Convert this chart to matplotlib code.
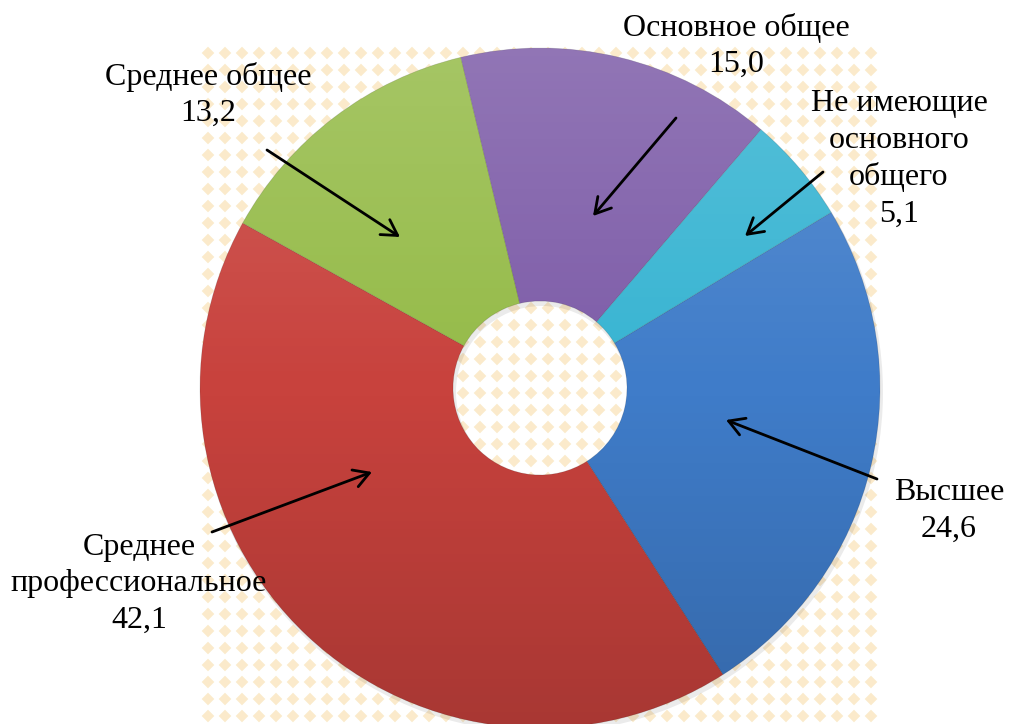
import numpy as np
import matplotlib.pyplot as plt
from matplotlib.patches import RegularPolygon
from matplotlib.collections import PatchCollection

# ==============================================================================
# Data
#
categories = [
    'Высшее',
    'Среднее\nпрофессиональное',
    'Среднее общее',
    'Основное общее',
    'Не имеющие\nосновного\nобщего',
]
shares = [24.6, 42.1, 13.2, 15.0, 5.1]

# ==============================================================================
# Layout (pixel units, y measured from the top of the picture)
#
FIG_W, FIG_H = 1010, 724
DPI = 100
CENTER = (540, 388)
OUTER_RADIUS = 340
INNER_RADIUS = 87
START_ANGLE = 31.1

SLICE_COLORS = ['#3f7cc9', '#c8423d', '#95bb48', '#7d5ca8', '#37b4d2']
PATTERN_COLOR = '#fbeacb'
PATTERN_STEP = 17
PATTERN_X = (208, 872)
PATTERN_Y = (53, 740)

FONT = 'Liberation Serif'
FONT_SIZE = 23
LINE_SPACING = 1.33

# label centre (x, y) and arrow (tail, head)
label_positions = [(949, 511), (139, 584), (208, 95), (736, 46), (899, 159)]
arrow_tails = [(877, 479), (212, 532), (267, 150), (676, 118), (823, 172)]
arrow_heads = [(726, 420), (372, 472), (400, 237), (593, 216), (745, 236)]


def to_data(point):
    return point[0], FIG_H - point[1]


# ==============================================================================
# Figure
#
fig = plt.figure(figsize=(FIG_W / DPI, FIG_H / DPI), dpi=DPI)
ax = fig.add_axes([0, 0, 1, 1])
ax.set_xlim(0, FIG_W)
ax.set_ylim(0, FIG_H)
ax.set_aspect('equal')
ax.axis('off')
                                                            # diamond backdrop
diamonds = []
for x in range(PATTERN_X[0], PATTERN_X[1] + 1, PATTERN_STEP):
    for y in range(PATTERN_Y[0], PATTERN_Y[1] + 1, PATTERN_STEP):
        diamonds.append(RegularPolygon(to_data((x, y)), 4, radius=6.3))
ax.add_collection(PatchCollection(
    diamonds, facecolor=PATTERN_COLOR, edgecolor='none', zorder=1
))
                                                                      # shadow
center = to_data(CENTER)
ring_width = OUTER_RADIUS - INNER_RADIUS
ax.pie(
    [1], colors=['#000000'], radius=OUTER_RADIUS + 1,
    center=(center[0] + 2, center[1] - 4),
    wedgeprops=dict(width=ring_width + 2, alpha=0.08, linewidth=0),
    frame=True
)
                                                                       # donut
wedges, _ = ax.pie(
    shares, colors=SLICE_COLORS, startangle=START_ANGLE, counterclock=False,
    radius=OUTER_RADIUS, center=center,
    wedgeprops=dict(width=ring_width, linewidth=0.6, edgecolor='#00000022'),
    frame=True
)
                                                         # lighting gradient
gradient = np.zeros((256, 2, 4))
ramp = np.linspace(0, 1, 256)[:, None]
gradient[..., 0:3] = np.where(ramp < 0.5, 1.0, 0.0)[..., None]
gradient[..., 3] = np.abs(ramp - 0.5)[:, 0][:, None] * 0.32
for wedge in wedges:
    image = ax.imshow(
        gradient, aspect='auto', interpolation='bilinear',
        extent=(center[0] - OUTER_RADIUS, center[0] + OUTER_RADIUS,
                center[1] - OUTER_RADIUS, center[1] + OUTER_RADIUS),
        origin='upper', zorder=wedge.get_zorder() + 0.1
    )
    image.set_clip_path(wedge)
ax.set_xlim(0, FIG_W)
ax.set_ylim(0, FIG_H)
ax.axis('off')
                                                                      # labels
for name, value, position, tail, head in zip(
    categories, shares, label_positions, arrow_tails, arrow_heads
):
    text = '%s\n%s' % (name, ('%.1f' % value).replace('.', ','))
    ax.text(
        *to_data(position), text, ha='center', va='center',
        family=FONT, fontsize=FONT_SIZE, linespacing=LINE_SPACING, zorder=5
    )
    ax.annotate(
        '', xy=to_data(head), xytext=to_data(tail),
        arrowprops=dict(
            arrowstyle='->,head_length=0.55,head_width=0.32',
            mutation_scale=20, lw=2, color='black',
            shrinkA=0, shrinkB=0
        ),
        zorder=6
    )

fig.savefig('out.png', dpi=DPI)
